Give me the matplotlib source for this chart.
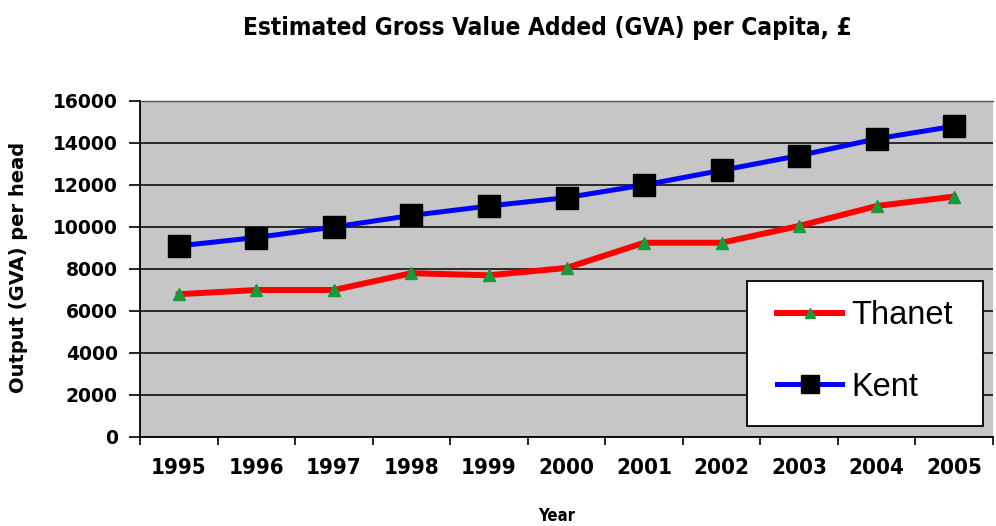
import matplotlib
matplotlib.use("Agg")
import matplotlib.pyplot as plt
from matplotlib.patches import Rectangle
from matplotlib.ticker import FixedLocator, NullFormatter

years = ["1995", "1996", "1997", "1998", "1999", "2000",
         "2001", "2002", "2003", "2004", "2005"]
thanet = [6800, 7000, 7000, 7800, 7700, 8050, 9250, 9250, 10050, 11000, 11450]
kent = [9100, 9500, 10000, 10550, 11000, 11400, 12000, 12700, 13400, 14200, 14800]
y_ticks = [0, 2000, 4000, 6000, 8000, 10000, 12000, 14000, 16000]

W, H = 996, 526
fig = plt.figure(figsize=(W / 100, H / 100), dpi=100)
ax = fig.add_axes([140 / W, 1 - 437 / H, 853 / W, 336 / H])
ax.set_facecolor("#c6c6c6")

x = list(range(len(years)))
ax.plot(x, thanet, color="#ff0000", lw=4.3, marker="^", ms=8,
        mfc="#169a3a", mec="#169a3a", label="Thanet", zorder=4)
ax.plot(x, kent, color="#0000ff", lw=3.6, marker="s", ms=16,
        mfc="black", mec="black", label="Kent", zorder=5)

ax.set_xlim(-0.5, len(years) - 0.5)
ax.set_ylim(0, 16000)

# category labels centred, tick marks between categories
ax.set_xticks(x)
ax.set_xticklabels(years, fontfamily="DejaVu Sans", fontweight="bold",
                   fontsize=16, fontstretch="condensed")
ax.tick_params(axis="x", which="major", length=0, pad=15)
ax.xaxis.set_minor_locator(FixedLocator([i - 0.5 for i in range(len(years) + 1)]))
ax.xaxis.set_minor_formatter(NullFormatter())
ax.tick_params(axis="x", which="minor", length=6, width=1.2, color="black",
               direction="out")

ax.set_yticks(y_ticks)
ax.set_yticklabels([str(v) for v in y_ticks], fontfamily="DejaVu Sans",
                   fontweight="bold", fontsize=13.5)
ax.tick_params(axis="y", length=8, width=1.2, color="black", pad=8)

ax.grid(axis="y", color="black", lw=1.1, zorder=1)
ax.set_axisbelow(True)
for side in ["left", "bottom"]:
    ax.spines[side].set_color("black")
    ax.spines[side].set_linewidth(1.3)
ax.spines["top"].set_color("#555555")
ax.spines["top"].set_linewidth(1.0)
ax.spines["right"].set_visible(False)

fig.text(547 / W, 1 - 28 / H, "Estimated Gross Value Added (GVA) per Capita, £",
         ha="center", va="center", fontfamily="DejaVu Sans", fontweight="bold",
         fontsize=17.5, fontstretch="condensed")
fig.text(19 / W, 1 - 267 / H, "Output (GVA) per head", rotation=90,
         ha="center", va="center", fontfamily="DejaVu Sans", fontweight="bold",
         fontsize=14)
fig.text(557 / W, 1 - 516 / H, "Year", ha="center", va="center",
         fontfamily="DejaVu Sans", fontweight="bold", fontsize=12,
         fontstretch="condensed")

# white legend panel with black border
box = Rectangle((747 / W, 1 - 426 / H), 236 / W, 145 / H, transform=fig.transFigure,
                facecolor="white", edgecolor="black", lw=1.3, clip_on=False, zorder=9)
ax.add_patch(box)

leg = ax.legend(loc="center left", bbox_to_anchor=(777 / W, 1 - 351.5 / H),
                bbox_transform=fig.transFigure,
                prop={"family": "Liberation Sans", "size": 23.5},
                frameon=False, handlelength=2.0, handletextpad=0.28,
                labelspacing=1.25, borderpad=0, borderaxespad=0, markerscale=0.85)
leg.set_zorder(10)

fig.savefig("out.png", dpi=100, facecolor="white")
